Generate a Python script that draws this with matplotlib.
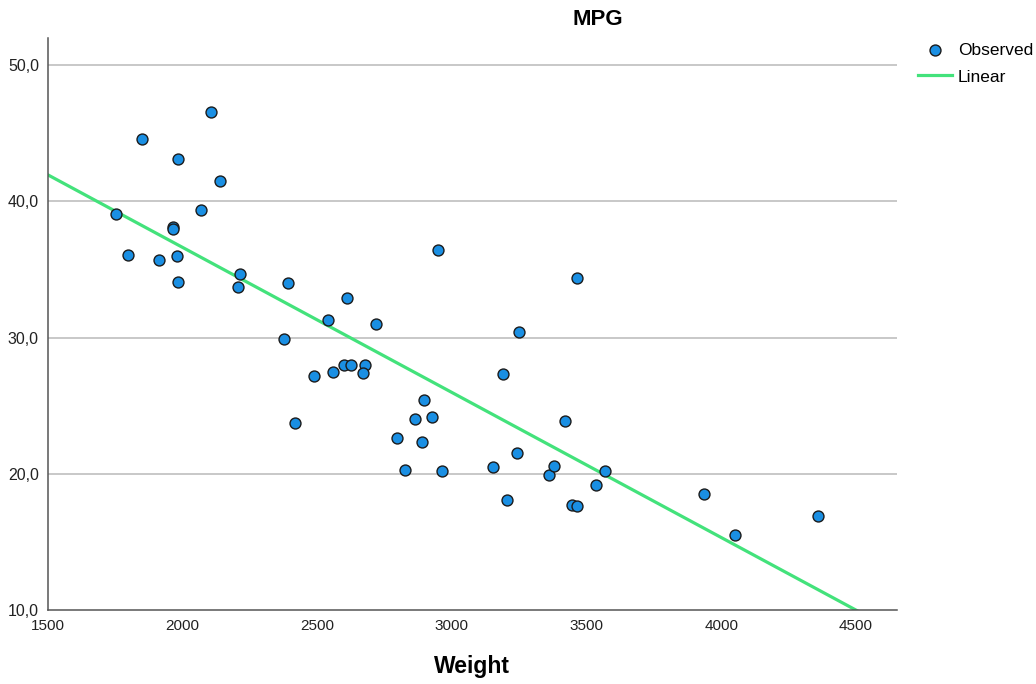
import numpy as np
import matplotlib
matplotlib.use("Agg")
import matplotlib.pyplot as plt
from matplotlib.ticker import FuncFormatter

plt.rcParams["font.family"] = ["Liberation Sans", "DejaVu Sans"]

# observed cars (weight, mpg)
weight = [1752, 1849, 1797, 1912, 1983, 1964, 1966, 1979, 1983, 2068,
          2105, 2139, 2213, 2205, 2376, 2391, 2417, 2488, 2540, 2558,
          2610, 2599, 2625, 2677, 2670, 2718, 2796, 2826, 2863, 2896,
          2889, 2926, 2948, 2963, 3152, 3190, 3204, 3242, 3249, 3360,
          3379, 3420, 3446, 3464, 3464, 3535, 3568, 3936, 4051, 4359]
mpg = [39.1, 44.6, 36.1, 35.7, 43.1, 38.1, 38.0, 36.0, 34.1, 39.4,
       46.6, 41.5, 34.7, 33.7, 29.9, 34.0, 23.7, 27.2, 31.3, 27.5,
       32.9, 28.0, 28.0, 28.0, 27.4, 31.0, 22.6, 20.3, 24.0, 25.4,
       22.3, 24.2, 36.4, 20.2, 20.5, 27.3, 18.1, 21.5, 30.4, 19.9,
       20.6, 23.9, 17.7, 17.6, 34.4, 19.2, 20.2, 18.5, 15.5, 16.9]

# linear fit as drawn: mpg at weight 1500 and slope
fit_at_1500 = 41.95
fit_slope = -0.01065

y_ticks = [10, 20, 30, 40, 50]
x_ticks = [1500, 2000, 2500, 3000, 3500, 4000, 4500]

fig = plt.figure(figsize=(10.36, 6.84), dpi=100)
ax = fig.add_axes([0.0463, 0.1082, 0.8195, 0.8362])

for t in y_ticks[1:]:
    ax.axhline(t, color="#c8c8c8", linewidth=1.4, zorder=0)

xs = np.array([1500, 4700])
ax.plot(xs, fit_at_1500 + fit_slope * (xs - 1500), color="#43e27b",
        linewidth=2.3, label="Linear", zorder=2)
ax.scatter(weight, mpg, s=62, facecolor="#1a8fe3", edgecolor="#1b1b1b",
           linewidth=1.0, label="Observed", zorder=3)

ax.set_xlim(1500, 4653)
ax.set_ylim(10, 52)
ax.set_xticks(x_ticks)
ax.set_yticks(y_ticks)
ax.yaxis.set_major_formatter(FuncFormatter(lambda v, p: f"{v:.1f}".replace(".", ",")))
ax.tick_params(length=0, labelsize=11, colors="#222222", pad=6.5)
ax.tick_params(axis="y", labelsize=11.5)

for s in ["top", "right"]:
    ax.spines[s].set_visible(False)
for s in ["left", "bottom"]:
    ax.spines[s].set_color("#555555")
    ax.spines[s].set_linewidth(1.1)

ax.set_xlabel("Weight", fontsize=16.5, fontweight="bold", labelpad=16)
fig.text(0.577, 0.971, "MPG", fontsize=16, fontweight="bold", ha="center", va="center")

handles, labels = ax.get_legend_handles_labels()
fig.legend(handles[::-1], labels[::-1], loc="upper left", bbox_to_anchor=(0.886, 0.938),
           frameon=False, fontsize=12.5, handlelength=1.95, handletextpad=0.35,
           labelspacing=0.68, borderaxespad=0, borderpad=0)

fig.savefig("out.png", dpi=100)
